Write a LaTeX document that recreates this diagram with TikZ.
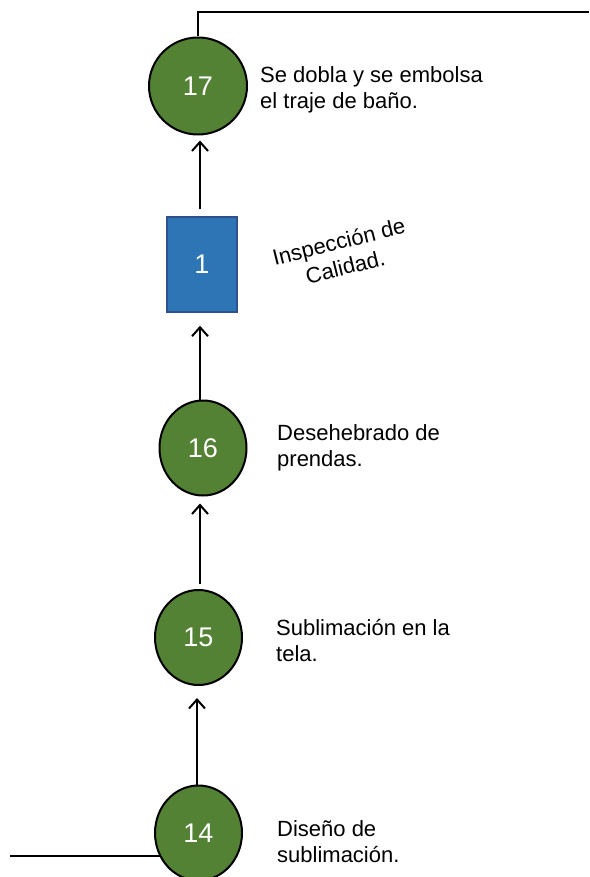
\documentclass[tikz,border=0pt]{standalone}
\usepackage{fontspec}
\setmainfont{Liberation Sans}
\usetikzlibrary{arrows.meta,shapes.geometric,backgrounds}
\definecolor{opGreen}{RGB}{84,130,53}
\definecolor{inspBlue}{RGB}{46,117,182}
\definecolor{inspEdge}{RGB}{47,82,143}

\begin{document}
\begin{tikzpicture}[x=1pt,y=-1pt,
    opcircle/.style={ellipse, draw=black, line width=2pt, fill=opGreen, text=white,
      inner sep=0pt, minimum width=87pt, minimum height=95pt, font=\fontsize{27}{30}\selectfont},
    inspbox/.style={rectangle, draw=inspEdge, line width=1.5pt, fill=inspBlue, text=white,
      minimum width=70pt, minimum height=95pt, font=\fontsize{27}{30}\selectfont},
    steplabel/.style={align=left, anchor=base west, inner sep=0pt, font=\fontsize{22}{26}\selectfont},
    flow/.style={line width=2pt, -{Straight Barb[length=9pt,width=16pt,line width=2pt]}}]
        \useasboundingbox (0,0) rectangle (589,877);
        % operations and inspection
        \node[opcircle, minimum width=98pt, minimum height=97pt] (n17) at (198,86) {17};
        \node[inspbox] (q1) at (202,264.5) {1};
        \node[opcircle] (n16) at (203,448) {16};
        \node[opcircle] (n15) at (198.5,637.5) {15};
        \node[opcircle] (n14) at (198.5,833) {14};
        % flow arrows
        \draw[flow, shorten <=7pt, shorten >=5pt] ([xshift=-2pt]q1.north) -- ([xshift=-2pt]q1.north |- n17.south);
        \draw[flow, shorten >=13pt] ([xshift=-3pt]n16.north) -- ([xshift=-3pt]n16.north |- q1.south);
        \draw[flow, shorten <=5pt, shorten >=7pt] ([xshift=1.5pt]n15.north) -- ([xshift=1.5pt]n15.north |- n16.south);
        \draw[flow, shorten >=12pt] ([xshift=-1.5pt]n14.north) -- ([xshift=-1.5pt]n14.north |- n15.south);
        % lines in and out
        \coordinate (exitR) at (589,12);
        \coordinate (entryL) at (10,856);
        \draw[line width=2pt] (n17.north) |- (exitR);
        \begin{scope}[on background layer]
          \draw[line width=2pt] (entryL) -- (entryL -| n14.center);
        \end{scope}
        % labels
        \node[steplabel] (t17) at (260,109) {Se dobla y se embolsa\\el traje de baño.};
        \node[rotate=14, align=center, inner sep=0pt, font=\fontsize{22}{26}\selectfont] (tq1) at (342,254) {Inspección de\\Calidad.};
        \node[steplabel] (t16) at (277,466) {Desehebrado de\\prendas.};
        \node[steplabel] (t15) at (276,661) {Sublimación en la\\tela.};
        \node[steplabel] (t14) at (277,862) {Diseño de\\sublimación.};
\end{tikzpicture}
\end{document}
